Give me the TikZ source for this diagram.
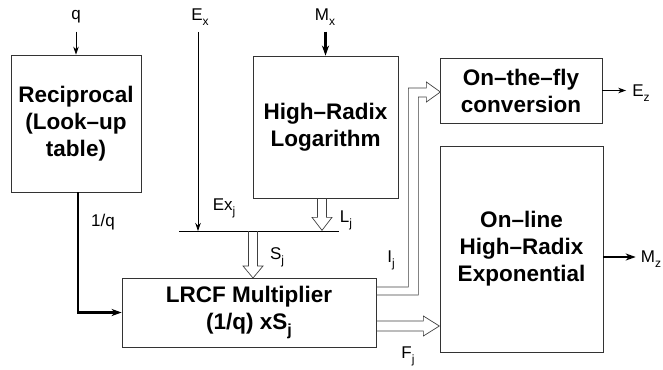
\documentclass[tikz,border=0pt]{standalone}
\usepackage{fontspec}
\setmainfont{Liberation Sans}
\usetikzlibrary{arrows.meta,calc}
\newcommand{\lbSub}[2][12]{\raisebox{-0.3em}{\fontsize{#1}{#1}\selectfont #2}}
\tikzset{
  block/.style={draw=black!80, line width=0.7pt, align=center, inner sep=0pt, font=\fontsize{22.5}{27}\selectfont\bfseries},
  lbl/.style={inner sep=0pt, font=\fontsize{17}{20}\selectfont},
  hollow/.style={draw=black!75, line width=0.7pt},
  thinarrow/.style={line width=0.8pt, -{Stealth[length=8pt,width=5.5pt,inset=2.5pt]}},
  thickarrow/.style={line width=2.2pt, -{Stealth[length=10pt,width=7pt,inset=3pt]}},
}
\begin{document}
\begin{tikzpicture}[x=1pt,y=-1pt]
\useasboundingbox (0,0) rectangle (663,369);
\node[block, minimum width=130pt, minimum height=137pt] (recip) at (76,123.5) {Reciprocal\\(Look–up\\table)};
\node[block, minimum width=145pt, minimum height=142pt] (hrl) at (325.5,127) {High–Radix\\Logarithm};
\node[block, minimum width=162pt, minimum height=65pt] (otf) at (521,90.5) {On–the–fly\\conversion};
\node[block, minimum width=163pt, minimum height=206pt] (hexp) at (521.5,249) {On–line\\High–Radix\\Exponential};
\node[block, minimum width=254pt, minimum height=69pt] (lrcf) at (249,312.5) {LRCF Multiplier\\(1/q) xS\lbSub[16]{j}};
\node[lbl] (q) at (76,17) {q};
\node[lbl] (ex) at (200,17) {E\lbSub{x}};
\node[lbl] (mx) at (325,17) {M\lbSub{x}};
\node[lbl] (exj) at (224,208) {Ex\lbSub{j}};
\node[lbl] (lj) at (346,220) {L\lbSub{j}};
\node[lbl] (sj) at (277,257) {S\lbSub{j}};
\node[lbl] (ij) at (391,260) {I\lbSub{j}};
\node[lbl] (fj) at (408,356) {F\lbSub{j}};
\node[lbl] (invq) at (103,222) {1/q};
\node[lbl] (ez) at (641,93) {E\lbSub{z}};
\node[lbl] (mz) at (651,259) {M\lbSub{z}};
\coordinate (busL) at (179,231);
\coordinate (busR) at (339,231);
\coordinate (exstart) at (198,32);
\coordinate (mzout) at ($(hexp.east)+(0,8)$);
\draw[line width=0.8pt] (busL) -- (busR);
\draw[thinarrow] (exstart) -- (exstart |- busL);
\draw[thinarrow] ($(recip.north)+(0,-23)$) -- (recip.north);
\draw[thickarrow] ($(hrl.north)+(0,-24)$) -- (hrl.north);
\draw[thickarrow] ($(recip.south)+(2,0)$) |- (lrcf.west);
\draw[thinarrow] (otf.east) -- ($(otf.east -| ez.west)+(-6,0)$);
\draw[thickarrow, line width=1.8pt] (mzout) -- ($(mzout -| mz.west)+(-5,0)$);
\draw[hollow] ($(hrl.south)+(-8,0)$) -- ++(0,19) -- ++(-5.5,0) -- ++(10,13) -- ++(10,-13) -- ++(-5.5,0) -- ++(0,-19);
\draw[hollow] ($(lrcf.north |- busL)+(-0.5,0)$) -- ++(0,35) -- ++(-5.5,0) -- ++(10,12) -- ++(10,-12) -- ++(-5.5,0) -- ++(0,-35);
\draw[hollow] ($(lrcf.east)+(0,8.5)$) -- ++(47,0) -- ++(0,-5) -- ++(16,10) -- ++(-16,10) -- ++(0,-5) -- ++(-47,0);
\draw[hollow] ($(lrcf.east)+(0,-25.5)$) -- ++(32,0) -- ++(0,-199) -- ++(18,0) -- ++(0,-6) -- ++(14,10) -- ++(-14,10) -- ++(0,-5) -- ++(-8,0) -- ++(0,198) -- ++(-42,0);
\end{tikzpicture}
\end{document}
